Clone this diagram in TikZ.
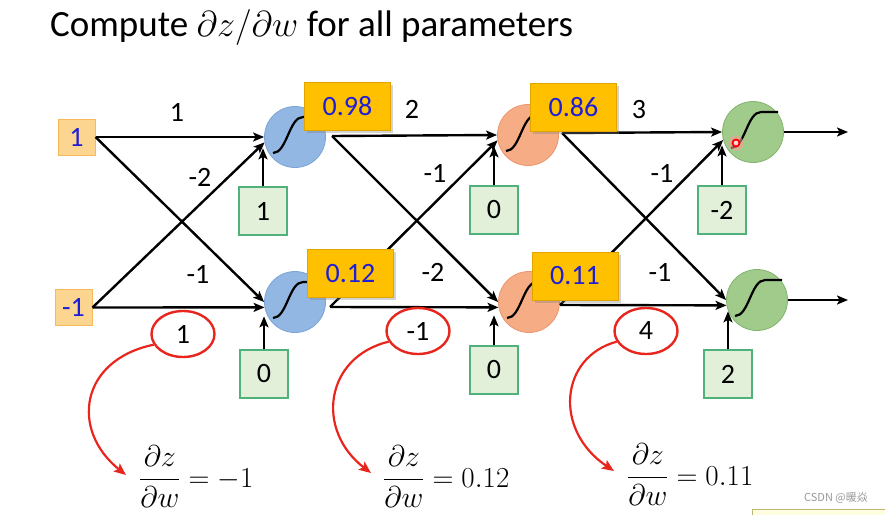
\RequirePackage{fix-cm}
\documentclass[tikz,border=0pt]{standalone}
\usepackage{fontspec}
\setmainfont{Carlito}
\newfontfamily\cjkfont{Noto Sans CJK SC}
\usetikzlibrary{arrows.meta,shapes.geometric,shadows,calc}
\definecolor{nblue}{RGB}{146,183,227}
\definecolor{nblueD}{RGB}{122,163,215}
\definecolor{norange}{RGB}{246,172,132}
\definecolor{norangeD}{RGB}{236,150,110}
\definecolor{ngreen}{RGB}{160,203,138}
\definecolor{ngreenD}{RGB}{130,180,110}
\definecolor{inF}{RGB}{252,214,145}
\definecolor{inD}{RGB}{246,186,90}
\definecolor{gold}{RGB}{255,192,0}
\definecolor{goldD}{RGB}{225,165,0}
\definecolor{valblue}{RGB}{30,30,215}
\definecolor{biasF}{RGB}{226,240,218}
\definecolor{biasD}{RGB}{80,178,122}
\definecolor{redA}{RGB}{232,38,30}
\newcommand\labfont{\fontsize{28}{32}\selectfont}
\newcommand\ttlfont{\fontsize{37}{42}\selectfont}
\newcommand\frmfont{\fontsize{29}{34}\selectfont}
\newcommand\dzdw{{\fontsize{30}{35}\selectfont$\displaystyle\frac{\partial z}{\partial w}$}}
\newcommand\sigcurve[1]{\draw[line width=2.2pt, shift={(#1.center)}] (-22,16) .. controls (-8,16) and (-6,-20) .. (8,-20) -- (25,-20);}
\begin{document}
\begin{tikzpicture}[x=1pt,y=-1pt,
  neuron/.style={circle,minimum size=61pt,inner sep=0,line width=0.8pt},
  bneu/.style={neuron,fill=nblue,draw=nblueD},
  oneu/.style={neuron,fill=norange,draw=norangeD},
  gneu/.style={neuron,fill=ngreen,draw=ngreenD},
  inbox/.style={rectangle,minimum width=37pt,minimum height=36pt,inner sep=0,fill=inF,draw=inD,line width=1pt,text=valblue,font=\labfont},
  biasbox/.style={rectangle,minimum width=48pt,minimum height=48pt,inner sep=0,fill=biasF,draw=biasD,line width=1.3pt,font=\labfont},
  valbox/.style={rectangle,minimum width=86pt,minimum height=48pt,inner sep=0,fill=gold,draw=goldD,line width=0.6pt,text=valblue,font=\labfont,drop shadow={shadow xshift=2.5pt,shadow yshift=-2.5pt,opacity=0.35}},
  wlab/.style={inner sep=0,font=\labfont},
  wire/.style={line width=2.4pt,-{Stealth[length=11pt,width=9pt,inset=2.5pt]}},
  redell/.style={ellipse,draw=redA,line width=2.4pt,minimum width=63pt,minimum height=46pt,inner sep=0,font=\labfont},
  redarr/.style={draw=redA,line width=2.2pt,-{Stealth[length=12pt,width=10pt,inset=2.5pt]}}
]
\useasboundingbox (0,0) rectangle (885,514);

% title
\node[anchor=base west,inner sep=0,font=\ttlfont] (title) at (50,36) {Compute {\fontsize{36}{40}\selectfont$\partial z/\partial w$} for all parameters};

% neurons
\node[bneu] (B1) at (295,137) {};
\node[bneu] (B2) at (295,302) {};
\node[oneu] (O1) at (528,135) {};
\node[oneu] (O2) at (529,302) {};
\node[gneu] (G1) at (753,132) {};
\node[gneu] (G2) at (757,300) {};
\sigcurve{B1}\sigcurve{B2}\sigcurve{O1}\sigcurve{O2}\sigcurve{G1}\sigcurve{G2}

% inputs
\node[inbox] (I1) at (76.5,137) {1};
\node[inbox] (I2) at (73.5,307.5) {-1};

% layer 1
\draw[wire] (I1.east) -- (B1.west);
\draw[wire] (I1.east) -- (B2.west);
\draw[wire] (I2.east) -- (B2.190);
\draw[wire] (I2.east) -- (B1.190);

% layer 2
\coordinate (s1) at (332,136);
\coordinate (s2) at (330,307);
\draw[wire] (s1) -- (O1.west);
\draw[wire] (s1) -- (O2.west);
\draw[wire] (s2) -- (O2.190);
\draw[wire] (s2) -- (O1.190);

% layer 3
\coordinate (t1) at (562,133);
\coordinate (t2) at (560,305);
\draw[wire] (t1) -- (G1.west);
\draw[wire] (t1) -- (G2.west);
\draw[wire] (t2) -- (G2.190);
\draw[wire] (t2) -- (G1.195);

% outputs
\coordinate (o1) at (848,132);
\coordinate (o2) at (848,300);
\draw[wire] (G1.east) -- (o1);
\draw[wire] (G2.east) -- (o2);

% biases
\node[biasbox] (bb1) at (263,211) {1};
\node[biasbox] (bb2) at (264,374) {0};
\node[biasbox] (bo1) at (494,210) {0};
\node[biasbox] (bo2) at (494,370) {0};
\node[biasbox] (bg1) at (722,210) {-2};
\node[biasbox] (bg2) at (728,374) {2};
\draw[wire] (bb1.north) -- ++(0,-38);
\draw[wire] (bb2.north) -- ++(0,-33);
\draw[wire] (bo1.north) -- ++(0,-39);
\draw[wire] (bo2.north) -- ++(0,-30);
\draw[wire] (bg1.north) -- ++(0,-40);
\draw[wire] (bg2.north) -- ++(0,-38);

% value boxes
\node[valbox] (v1) at (347.5,106) {0.98};
\node[valbox] (v2) at (350.5,273.5) {0.12};
\node[valbox] (v3) at (573.5,107) {0.86};
\node[valbox] (v4) at (575,276) {0.11};

% weight labels
\node[wlab] (w1) at (177,112) {1};
\node[wlab] (w2) at (200,177) {-2};
\node[wlab] (w3) at (198,274) {-1};
\node[wlab] (w4) at (412,109) {2};
\node[wlab] (w5) at (435,173) {-1};
\node[wlab] (w6) at (433,272) {-2};
\node[wlab] (w7) at (639,110) {3};
\node[wlab] (w8) at (662,173) {-1};
\node[wlab] (w9) at (660,272) {-1};

% red ellipses
\node[redell] (e1) at (183,334) {1};
\node[redell] (e2) at (418,331) {-1};
\node[redell] (e3) at (646,331) {4};

% formulas
\node[anchor=base west,inner sep=0,font=\frmfont] (f1) at (139,487) {\dzdw$\;=-1$};
\node[anchor=base west,inner sep=0,font=\frmfont] (f2) at (383,487) {\dzdw$\;=0.12$};
\node[anchor=base west,inner sep=0,font=\frmfont] (f3) at (627,485) {\dzdw$\;=0.11$};

% red curved arrows
\coordinate (a1) at (126,475);
\coordinate (a2) at (371,473);
\coordinate (a3) at (614,471);
\draw[redarr] (e1.200) .. controls (80,360) and (70,430) .. (a1);
\draw[redarr] (e2.200) .. controls (325,357) and (315,430) .. (a2);
\draw[redarr] (e3.200) .. controls (560,357) and (553,430) .. (a3);

% pointer dot
\node[circle,minimum size=15pt,inner sep=0,fill=red!40,opacity=0.55] (glow) at (736,143) {};
\node[circle,minimum size=7pt,inner sep=0,draw=red,line width=1.8pt,fill=red!15] (dot) at (736,143) {};

% watermark and strip
\node[anchor=east,inner sep=0,text=gray!80,font=\cjkfont\fontsize{11}{13}\selectfont] (wm) at (868,498) {CSDN @暖焱};
\draw[fill=yellow!12,draw=yellow!40!gray] (752,509) rectangle (900,530);
\end{tikzpicture}
\end{document}
